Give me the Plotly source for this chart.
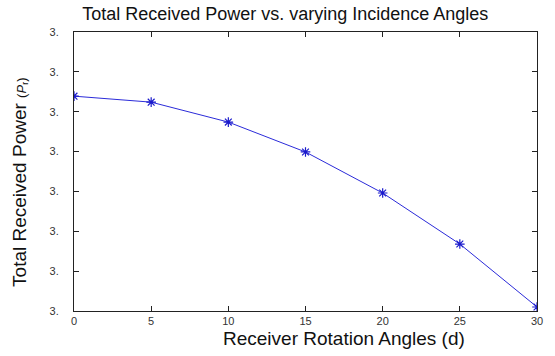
import plotly.graph_objects as go

# Receiver rotation angle (degrees) and total received power
angles = [0, 5, 10, 15, 20, 25, 30]
power = [3.3539, 3.3524, 3.3474, 3.3399, 3.3296, 3.3168, 3.3010]

y_ticks = [3.30, 3.31, 3.32, 3.33, 3.34, 3.35, 3.36, 3.37]
y_ticktext = ["3."] * len(y_ticks)
x_ticks = [0, 5, 10, 15, 20, 25, 30]

fig = go.Figure()
fig.add_trace(go.Scatter(
    x=angles, y=power, mode="lines+markers",
    line=dict(color="#2b2bd9", width=1),
    marker=dict(symbol="asterisk-open", size=8, color="#1a1acc",
                line=dict(color="#1a1acc", width=1.2)),
    showlegend=False,
))

axis_common = dict(
    showline=True, linecolor="#222", linewidth=1, mirror="ticks",
    ticks="inside", ticklen=5, tickcolor="#222", showgrid=False,
    zeroline=False, tickfont=dict(family="Liberation Sans, Arial", size=11, color="#333"),
)
fig.update_xaxes(range=[0, 30], tickvals=x_ticks, **axis_common)
fig.update_yaxes(range=[3.30, 3.37], tickvals=y_ticks, ticktext=y_ticktext,
                 ticklabelstandoff=12, **axis_common)

fig.update_layout(
    width=555, height=356,
    margin=dict(l=74, r=18, t=32, b=45),
    paper_bgcolor="white", plot_bgcolor="white",
    font=dict(family="Liberation Sans, Arial", color="#111"),
    title=dict(text="Total Received Power vs. varying Incidence Angles",
               x=0.514, xanchor="center", y=0.962, yanchor="middle",
               font=dict(size=18, color="#111")),
    annotations=[
        dict(text="Receiver Rotation Angles (d)", xref="paper", yref="paper",
             x=0.583, y=-0.097, xanchor="center", yanchor="middle",
             showarrow=False, font=dict(size=19, color="#111")),
        dict(text="Total Received Power <span style='font-size:13px'>(<i>P</i><sub>r</sub>)</span>",
             xref="paper", yref="paper",
             x=-0.117, y=0.462, xanchor="center", yanchor="middle", textangle=-90,
             showarrow=False, font=dict(size=19, color="#111")),
    ],
)

fig.write_html("out.html")
